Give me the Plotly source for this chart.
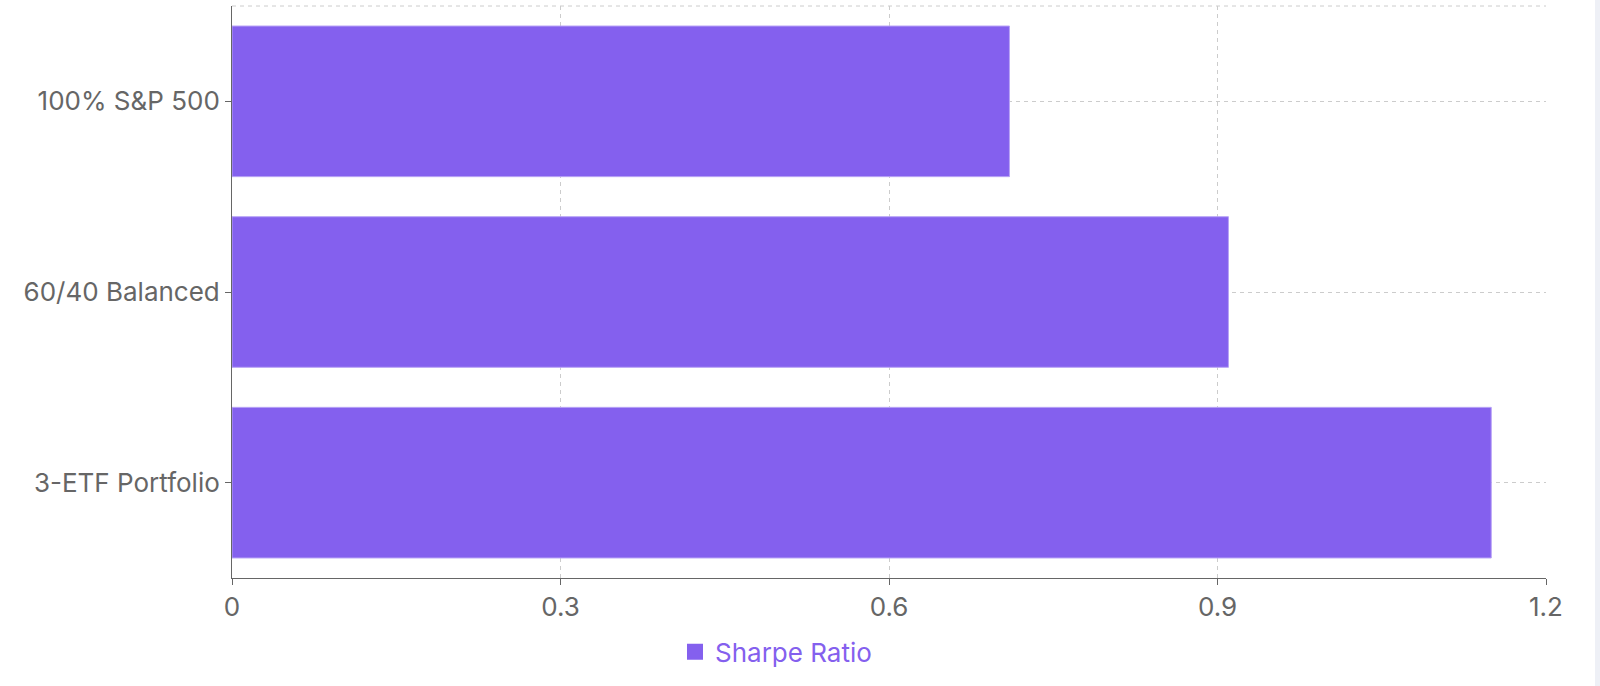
import plotly.graph_objects as go

portfolios = ['100% S&P 500', '60/40 Balanced', '3-ETF Portfolio']
sharpe = [0.71, 0.91, 1.15]
x_ticks = [0, 0.3, 0.6, 0.9, 1.2]
x_labels = ['0', '0.3', '0.6', '0.9', '1.2']

purple = '#8460ee'
grey = '#666666'

fig = go.Figure()
fig.add_trace(go.Bar(
    y=portfolios, x=sharpe, orientation='h', name='Sharpe Ratio',
    marker=dict(color=purple, line=dict(color='#b8a3f6', width=1)),
    showlegend=False,
))
# legend entry only: a bigger square swatch than the bar legend icon
fig.add_trace(go.Scatter(
    x=[None], y=[None], mode='markers', name='Sharpe Ratio',
    marker=dict(symbol='square', size=18, color=purple),
))

fig.update_layout(
    width=1600, height=686,
    plot_bgcolor='white', paper_bgcolor='white',
    margin=dict(l=232, r=54, t=6, b=108),
    font=dict(family='Inter', size=26, color=grey),
    bargap=0.21,
    legend=dict(orientation='h', x=0.414, xanchor='center', y=-0.129, yanchor='middle',
                font=dict(color=purple, size=26)),
)
fig.update_xaxes(range=[0, 1.2], tickvals=x_ticks, ticktext=x_labels,
                 showgrid=True, gridcolor='#cccccc', griddash='4px,4px', gridwidth=1,
                 zeroline=False, showline=True, linecolor=grey, linewidth=1,
                 ticks='outside', ticklen=6, tickcolor=grey)
fig.update_yaxes(categoryorder='array', categoryarray=portfolios, autorange='reversed',
                 showgrid=True, gridcolor='#cccccc', griddash='4px,4px', gridwidth=1,
                 showline=True, linecolor=grey, linewidth=1,
                 ticks='outside', ticklen=6, tickcolor=grey)

# dashed top border of the grid, and the thin page strip at the right edge
fig.add_shape(type='line', xref='paper', yref='paper', x0=0, x1=1, y0=1, y1=1,
              line=dict(color='#cccccc', width=1, dash='4px,4px'), layer='below')
fig.add_shape(type='rect', xref='paper', yref='paper', x0=1.0373, x1=1.05, y0=-0.2, y1=1.02,
              fillcolor='#eef0f6', line=dict(width=0))

fig.write_html('out.html', config={'displayModeBar': False},
               post_script="document.body.style.margin='0';")
